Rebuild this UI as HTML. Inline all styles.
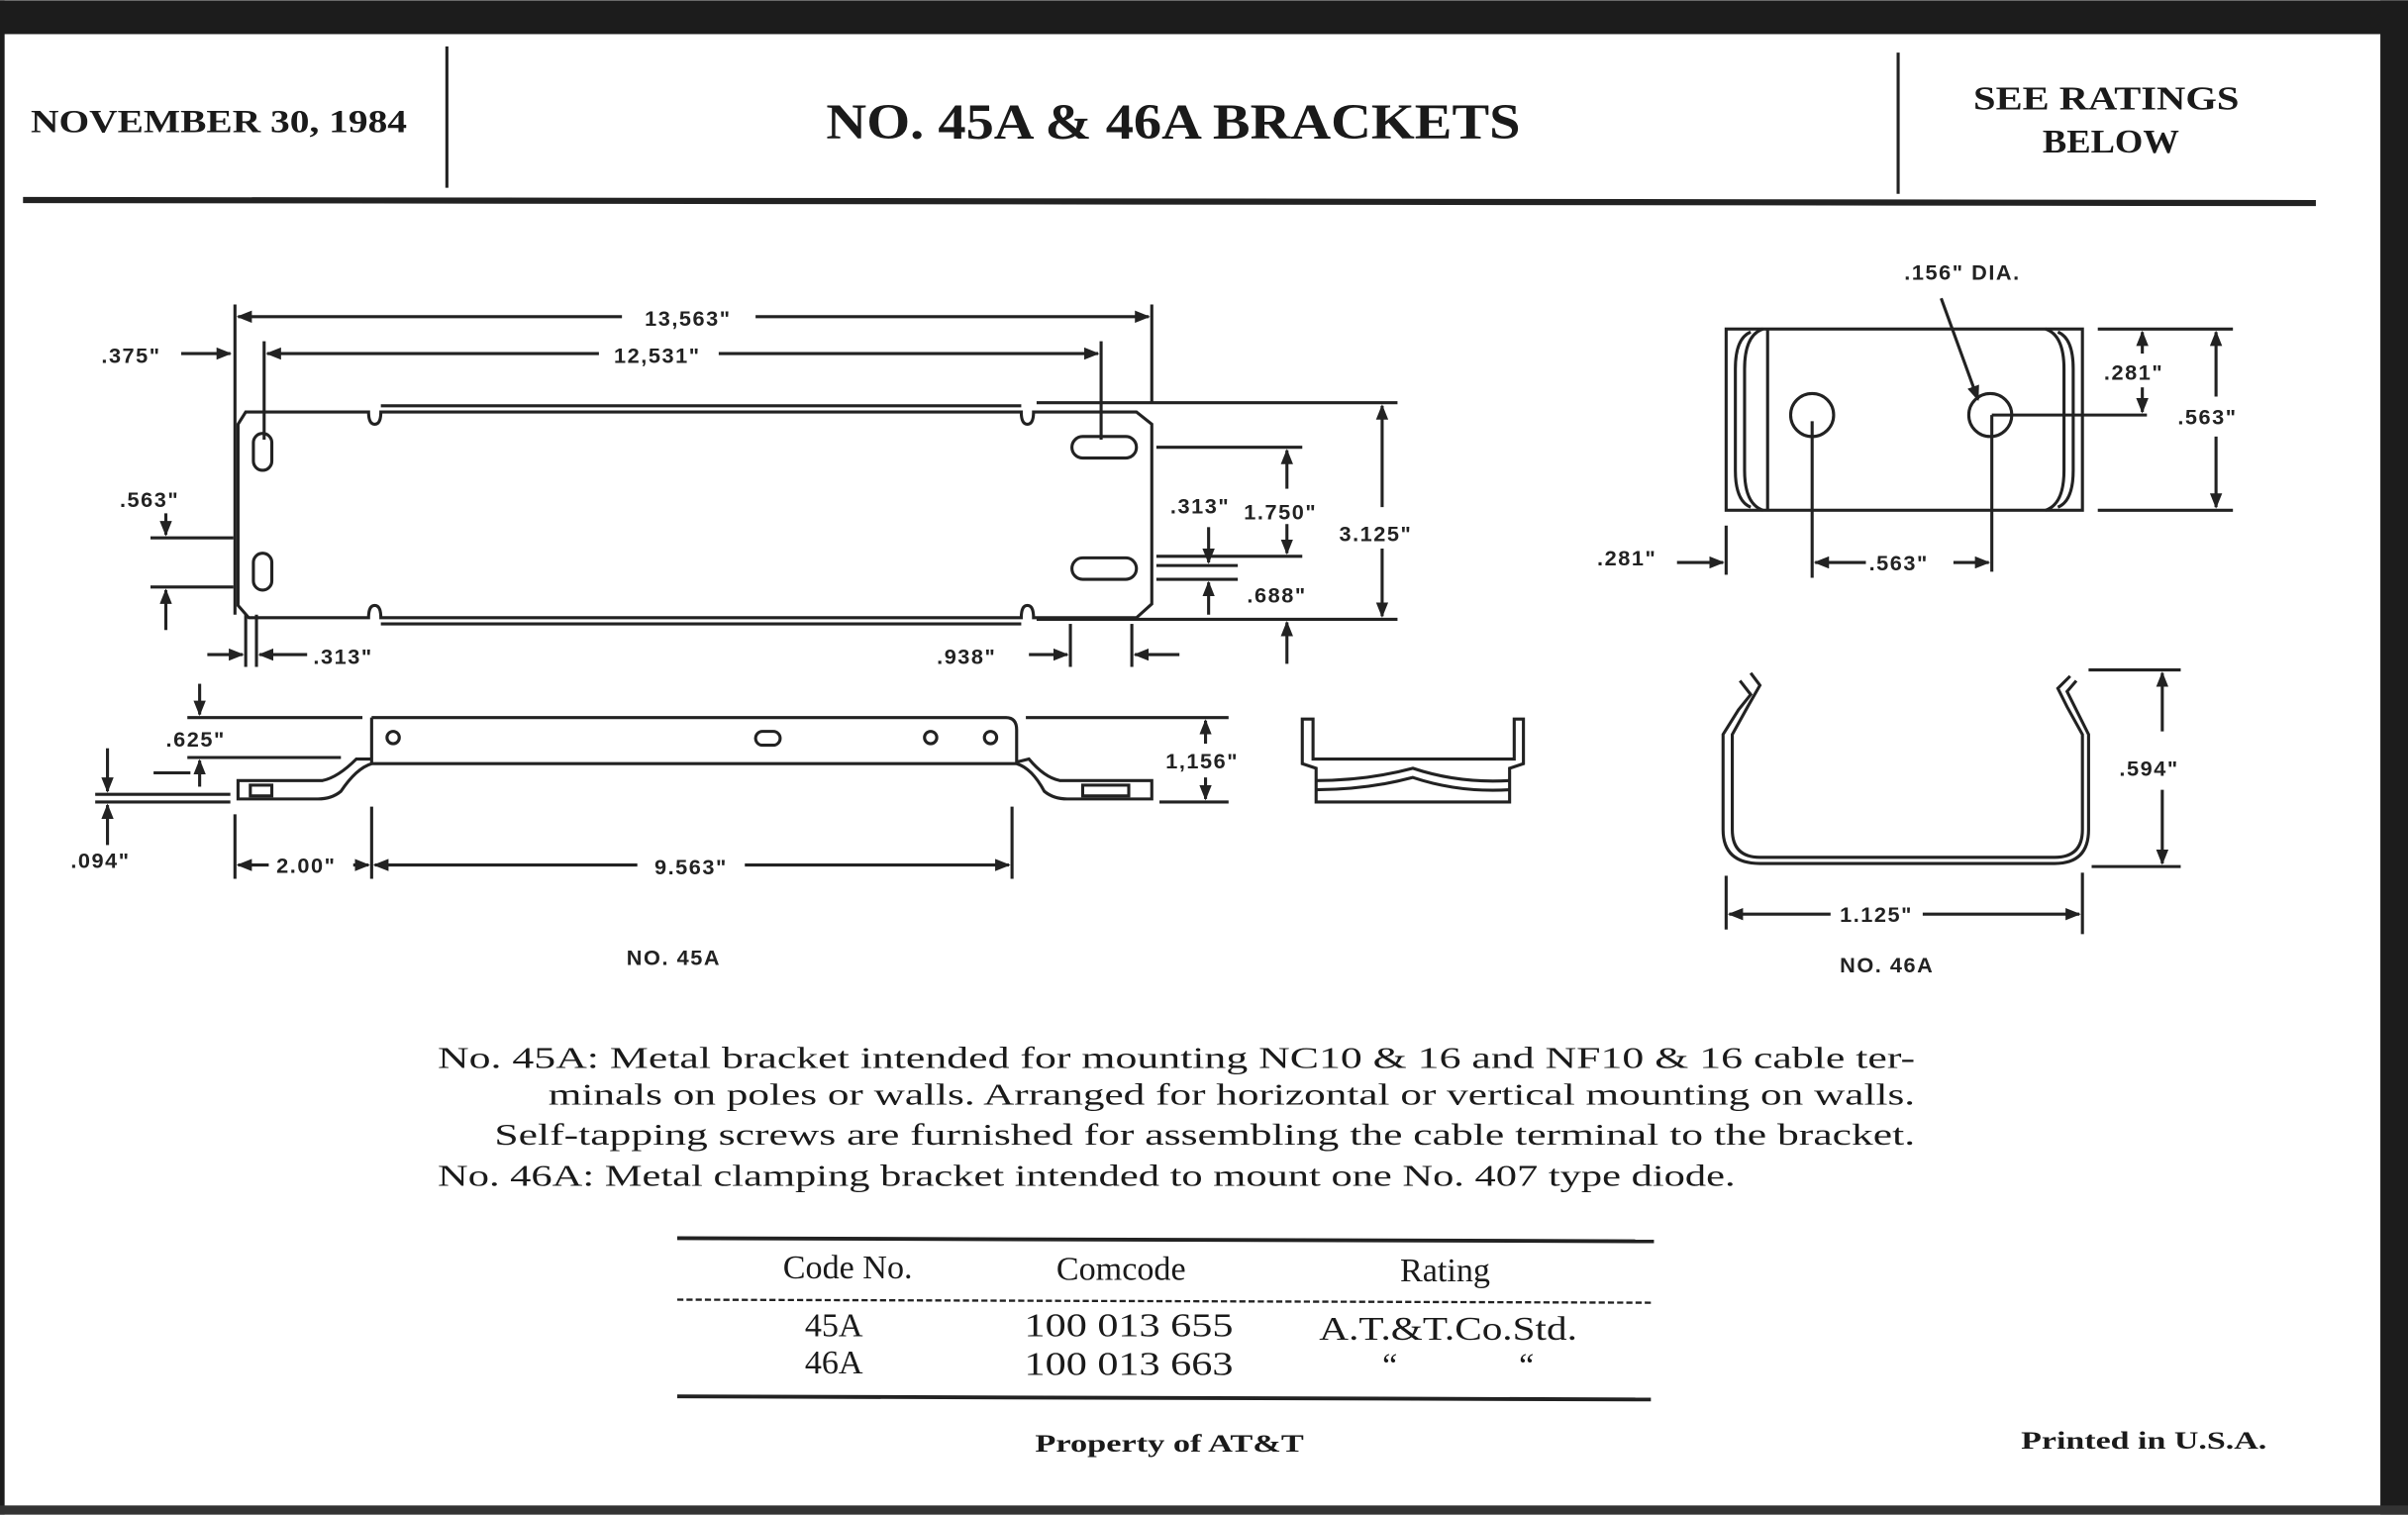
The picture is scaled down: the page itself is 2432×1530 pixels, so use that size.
<!DOCTYPE html>
<html><head><meta charset="utf-8"><style>
html,body{margin:0;padding:0;background:#fff}
svg{display:block}
.s{font-family:"Liberation Sans",sans-serif;font-weight:bold;font-size:14px;fill:#222;letter-spacing:1px}
.r{font-family:"Liberation Serif",serif;fill:#1a1a1a}
</style></head><body>
<svg width="2432" height="1530" viewBox="0 0 1568 986" xmlns="http://www.w3.org/2000/svg">
<defs>
<marker id="a" markerWidth="10" markerHeight="8" refX="9" refY="4" orient="auto-start-reverse" markerUnits="userSpaceOnUse"><path d="M0,0 L10,4 L0,8 Z" fill="#222"/></marker>
</defs>
<rect width="1568" height="986" fill="#fff"/>
<rect x="0" y="0" width="1568" height="22" fill="#1c1c1c"/>
<rect x="1550" y="0" width="18" height="986" fill="#1c1c1c"/>
<rect x="0" y="0" width="3" height="986" fill="#1c1c1c"/>
<rect x="0" y="980" width="1568" height="6" fill="#333"/>
<!-- header -->
<text class="r" x="20" y="86" font-size="21" font-weight="bold" textLength="245" lengthAdjust="spacingAndGlyphs">NOVEMBER 30, 1984</text>
<line x1="291" y1="30" x2="291" y2="122" stroke="#222" stroke-width="2"/>
<text class="r" x="538" y="90" font-size="33" font-weight="bold" textLength="452" lengthAdjust="spacingAndGlyphs">NO. 45A &amp; 46A BRACKETS</text>
<line x1="1236" y1="34" x2="1236" y2="126" stroke="#222" stroke-width="2"/>
<text class="r" x="1285" y="71" font-size="22" font-weight="bold" textLength="173" lengthAdjust="spacingAndGlyphs">SEE RATINGS</text>
<text class="r" x="1330" y="99" font-size="22" font-weight="bold" textLength="89" lengthAdjust="spacingAndGlyphs">BELOW</text>
<line x1="15" y1="130" x2="1508" y2="132" stroke="#222" stroke-width="4"/>
<g stroke="#222" stroke-width="2" fill="none">
<!-- 45A top view -->
<path d="M160,268 L240,268 Q240,276 244,276 Q248,276 248,268 L665,268 Q665,276 669,276 Q673,276 673,268 L740,268 L750,276 L750,393 L740,402 L673,402 Q673,394 669,394 Q665,394 665,402 L248,402 Q248,394 244,394 Q240,394 240,402 L162,402 L155,394 L155,276 Z"/>
<line x1="248" y1="264" x2="665" y2="264"/>
<line x1="248" y1="406" x2="665" y2="406"/>
<rect x="165" y="282" width="12" height="24" rx="6"/>
<rect x="165" y="360" width="12" height="24" rx="6"/>
<rect x="698" y="284" width="42" height="14" rx="7"/>
<rect x="698" y="363" width="42" height="14" rx="7"/>
<!-- dims -->
<line x1="153" y1="198" x2="153" y2="400"/>
<line x1="750" y1="198" x2="750" y2="262"/>
<line x1="172" y1="222" x2="172" y2="286"/>
<line x1="717" y1="222" x2="717" y2="286"/>
<line x1="155" y1="206" x2="405" y2="206" marker-start="url(#a)"/>
<line x1="492" y1="206" x2="748" y2="206" marker-end="url(#a)"/>
<line x1="174" y1="230" x2="390" y2="230" marker-start="url(#a)"/>
<line x1="468" y1="230" x2="715" y2="230" marker-end="url(#a)"/>
<line x1="118" y1="230" x2="150" y2="230" marker-end="url(#a)"/>
<line x1="675" y1="262" x2="910" y2="262"/>
<line x1="675" y1="403" x2="910" y2="403"/>
<line x1="900" y1="264" x2="900" y2="330" marker-start="url(#a)"/>
<line x1="900" y1="357" x2="900" y2="401" marker-end="url(#a)"/>
<line x1="753" y1="291" x2="848" y2="291"/>
<line x1="753" y1="362" x2="848" y2="362"/>
<line x1="838" y1="293" x2="838" y2="318" marker-start="url(#a)"/>
<line x1="838" y1="341" x2="838" y2="360" marker-end="url(#a)"/>
<line x1="753" y1="368" x2="806" y2="368"/>
<line x1="753" y1="377" x2="806" y2="377"/>
<line x1="787" y1="343" x2="787" y2="366" marker-end="url(#a)"/>
<line x1="787" y1="400" x2="787" y2="379" marker-end="url(#a)"/>
<line x1="838" y1="432" x2="838" y2="405" marker-end="url(#a)"/>
<line x1="98" y1="350" x2="152" y2="350"/>
<line x1="98" y1="382" x2="152" y2="382"/>
<line x1="108" y1="334" x2="108" y2="348" marker-end="url(#a)"/>
<line x1="108" y1="410" x2="108" y2="384" marker-end="url(#a)"/>
<line x1="160" y1="400" x2="160" y2="434"/>
<line x1="167" y1="400" x2="167" y2="434"/>
<line x1="135" y1="426" x2="158" y2="426" marker-end="url(#a)"/>
<line x1="200" y1="426" x2="169" y2="426" marker-end="url(#a)"/>
<line x1="697" y1="406" x2="697" y2="434"/>
<line x1="737" y1="406" x2="737" y2="434"/>
<line x1="670" y1="426" x2="695" y2="426" marker-end="url(#a)"/>
<line x1="768" y1="426" x2="739" y2="426" marker-end="url(#a)"/>
<!-- side view -->
<path d="M242,467 L655,467 Q662,467 662,475 L662,497 Q672,500 680,515 Q686,520 695,520 L750,520 L750,508 L690,508 Q680,506 670,494 L662,496 M242,467 Q242,467 242,497 L242,497 Q232,500 222,515 Q216,520 207,520 L155,520 L155,508 L210,508 Q220,506 232,494 L242,494 M242,497 L662,497"/>
<rect x="163" y="511" width="14" height="7"/>
<rect x="705" y="511" width="30" height="7"/>
<circle cx="256" cy="480" r="4"/>
<rect x="492" y="476" width="16" height="9" rx="4.5"/>
<circle cx="606" cy="480" r="4"/>
<circle cx="645" cy="480" r="4"/>
<line x1="122" y1="467" x2="236" y2="467"/>
<line x1="122" y1="493" x2="222" y2="493"/>
<line x1="130" y1="445" x2="130" y2="465" marker-end="url(#a)"/>
<line x1="130" y1="512" x2="130" y2="495" marker-end="url(#a)"/>
<line x1="100" y1="503" x2="124" y2="503"/>
<line x1="62" y1="517" x2="150" y2="517"/>
<line x1="62" y1="522" x2="150" y2="522"/>
<line x1="70" y1="487" x2="70" y2="515" marker-end="url(#a)"/>
<line x1="70" y1="550" x2="70" y2="524" marker-end="url(#a)"/>
<line x1="668" y1="467" x2="800" y2="467"/>
<line x1="755" y1="522" x2="800" y2="522"/>
<line x1="785" y1="484" x2="785" y2="469" marker-end="url(#a)"/>
<line x1="785" y1="506" x2="785" y2="520" marker-end="url(#a)"/>
<line x1="153" y1="530" x2="153" y2="572"/>
<line x1="242" y1="525" x2="242" y2="572"/>
<line x1="659" y1="525" x2="659" y2="572"/>
<line x1="155" y1="563" x2="175" y2="563" marker-start="url(#a)"/>
<line x1="230" y1="563" x2="240" y2="563" marker-end="url(#a)"/>
<line x1="244" y1="563" x2="415" y2="563" marker-start="url(#a)"/>
<line x1="485" y1="563" x2="657" y2="563" marker-end="url(#a)"/>
<!-- end view -->
<path d="M848,468 L848,497 L857,500 L857,522 L983,522 L983,500 L992,497 L992,468 L986,468 L986,494 L855,494 L855,468 Z"/>
<path d="M857,508 Q890,508 920,500 Q950,510 983,508"/>
<path d="M857,514 Q890,514 920,506 Q950,516 983,514"/>
<!-- 46A top -->
<rect x="1124" y="214" width="232" height="118"/>
<path d="M1148,214 Q1136,218 1136,240 L1136,306 Q1136,328 1148,332"/>
<path d="M1140,216 Q1130,220 1130,240 L1130,306 Q1130,326 1140,330"/>
<line x1="1151" y1="214" x2="1151" y2="332"/>
<path d="M1332,214 Q1344,218 1344,240 L1344,306 Q1344,328 1332,332"/>
<path d="M1340,216 Q1350,220 1350,240 L1350,306 Q1350,326 1340,330"/>
<circle cx="1180" cy="270" r="14"/>
<circle cx="1296" cy="270" r="14"/>
<line x1="1180" y1="274" x2="1180" y2="376"/>
<line x1="1297" y1="270" x2="1297" y2="372"/>
<line x1="1297" y1="270" x2="1398" y2="270"/>
<line x1="1264" y1="194" x2="1288" y2="260" marker-end="url(#a)"/>
<line x1="1366" y1="214" x2="1454" y2="214"/>
<line x1="1366" y1="332" x2="1454" y2="332"/>
<line x1="1395" y1="230" x2="1395" y2="216" marker-end="url(#a)"/>
<line x1="1395" y1="252" x2="1395" y2="268" marker-end="url(#a)"/>
<line x1="1443" y1="258" x2="1443" y2="216" marker-end="url(#a)"/>
<line x1="1443" y1="284" x2="1443" y2="330" marker-end="url(#a)"/>
<line x1="1124" y1="342" x2="1124" y2="374"/>
<line x1="1092" y1="366" x2="1122" y2="366" marker-end="url(#a)"/>
<line x1="1215" y1="366" x2="1182" y2="366" marker-end="url(#a)"/>
<line x1="1272" y1="366" x2="1295" y2="366" marker-end="url(#a)"/>
<!-- 46A end -->
<path d="M1140,438 L1146,446 L1138,460 L1128,478 L1128,540 Q1128,558 1146,558 L1338,558 Q1356,558 1356,540 L1356,478 L1346,460 L1340,448 L1348,440"/>
<path d="M1133,443 L1140,452 L1132,462 L1122,478 L1122,540 Q1122,562 1146,562 L1338,562 Q1360,562 1360,540 L1360,478 L1352,462 L1346,450 L1352,443"/>
<line x1="1360" y1="436" x2="1420" y2="436"/>
<line x1="1362" y1="564" x2="1420" y2="564"/>
<line x1="1408" y1="476" x2="1408" y2="438" marker-end="url(#a)"/>
<line x1="1408" y1="514" x2="1408" y2="562" marker-end="url(#a)"/>
<line x1="1124" y1="570" x2="1124" y2="605"/>
<line x1="1356" y1="568" x2="1356" y2="608"/>
<line x1="1126" y1="595" x2="1192" y2="595" marker-start="url(#a)"/>
<line x1="1252" y1="595" x2="1354" y2="595" marker-end="url(#a)"/>
</g>
<!-- labels -->
<text class="s" x="448" y="212" text-anchor="middle">13,563"</text>
<text class="s" x="428" y="236" text-anchor="middle">12,531"</text>
<text class="s" x="66" y="236">.375"</text>
<text class="s" x="78" y="330">.563"</text>
<text class="s" x="762" y="334">.313"</text>
<text class="s" x="810" y="338">1.750"</text>
<text class="s" x="872" y="352">3.125"</text>
<text class="s" x="812" y="392">.688"</text>
<text class="s" x="204" y="432">.313"</text>
<text class="s" x="610" y="432">.938"</text>
<text class="s" x="108" y="486">.625"</text>
<text class="s" x="46" y="565">.094"</text>
<text class="s" x="759" y="500">1,156"</text>
<text class="s" x="180" y="568">2.00"</text>
<text class="s" x="450" y="569" text-anchor="middle">9.563"</text>
<text class="s" x="408" y="628" font-size="17">NO. 45A</text>
<text class="s" x="1240" y="182">.156" DIA.</text>
<text class="s" x="1370" y="247">.281"</text>
<text class="s" x="1418" y="276">.563"</text>
<text class="s" x="1040" y="368">.281"</text>
<text class="s" x="1217" y="371">.563"</text>
<text class="s" x="1380" y="505">.594"</text>
<text class="s" x="1198" y="600">1.125"</text>
<text class="s" x="1198" y="633" font-size="17">NO. 46A</text>
<!-- description -->
<g class="r" font-size="20">
<text x="285" y="695" textLength="962" lengthAdjust="spacingAndGlyphs">No. 45A:  Metal bracket intended for mounting NC10 &amp; 16 and NF10 &amp; 16 cable ter-</text>
<text x="357" y="719" textLength="890" lengthAdjust="spacingAndGlyphs">minals on poles or walls. Arranged for horizontal or vertical mounting on walls.</text>
<text x="322" y="745" textLength="925" lengthAdjust="spacingAndGlyphs">Self-tapping screws are furnished for assembling the cable terminal to the bracket.</text>
<text x="285" y="772" textLength="845" lengthAdjust="spacingAndGlyphs">No. 46A:  Metal clamping bracket intended to mount one No. 407 type diode.</text>
</g>
<g stroke="#222" fill="none">
<line x1="441" y1="806" x2="1077" y2="808" stroke-width="2.5"/>
<line x1="441" y1="846" x2="1077" y2="848" stroke-width="1.5" stroke-dasharray="4 2"/>
<line x1="441" y1="909" x2="1075" y2="911" stroke-width="2.5"/>
</g>
<g class="r" font-size="22" text-anchor="middle">
<text x="552" y="832">Code No.</text>
<text x="730" y="833">Comcode</text>
<text x="941" y="834">Rating</text>
<text x="543" y="870">45A</text>
<text x="735" y="870" textLength="136" lengthAdjust="spacingAndGlyphs">100 013 655</text>
<text x="943" y="872" textLength="168" lengthAdjust="spacingAndGlyphs">A.T.&amp;T.Co.Std.</text>
<text x="543" y="894">46A</text>
<text x="735" y="895" textLength="136" lengthAdjust="spacingAndGlyphs">100 013 663</text>
<text x="905" y="896">“</text>
<text x="994" y="896">“</text>
</g>
<text class="r" x="674" y="945" font-size="16" font-weight="bold" textLength="175" lengthAdjust="spacingAndGlyphs">Property of AT&amp;T</text>
<text class="r" x="1316" y="943" font-size="16" font-weight="bold" textLength="160" lengthAdjust="spacingAndGlyphs">Printed in U.S.A.</text>
</svg>
</body></html>
